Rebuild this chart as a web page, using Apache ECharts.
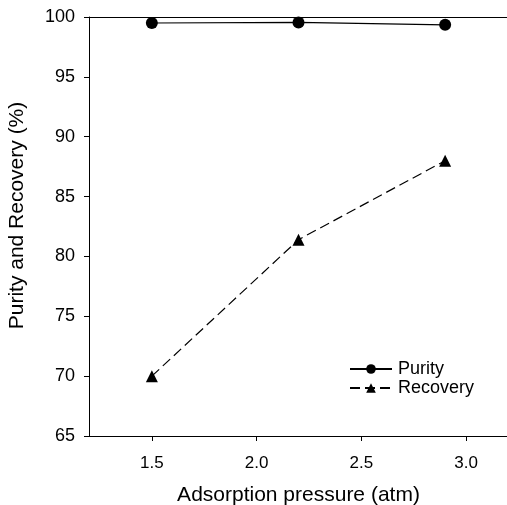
<!DOCTYPE html>
<html>
<head>
<meta charset="utf-8">
<script src="https://cdn.jsdelivr.net/npm/echarts@6/dist/echarts.min.js"></script>
<style>html,body{margin:0;padding:0;background:#fff}#c{width:507px;height:505px}</style>
</head>
<body>
<div id="c"></div>
<script>
var pressure = [1.5, 2.2, 2.9];
var purity = [99.5, 99.55, 99.35];
var recovery = [70.0, 81.4, 88.0];
var xTicks = [1.5, 2.0, 2.5, 3.0];
var yTicks = [65, 70, 75, 80, 85, 90, 95, 100];

var chart = echarts.init(document.getElementById('c'), null, {renderer: 'canvas'});
var font = 'Liberation Sans, Arial, sans-serif';
function pairs(xs, ys) { return xs.map(function (x, i) { return [x, ys[i]]; }); }

chart.setOption({
  animation: false,
  backgroundColor: '#fff',
  grid: {left: 89, top: 17, right: -1, bottom: 69, containLabel: false, outerBoundsMode: 'none'},
  legend: {
    orient: 'vertical', left: 344, top: 355, itemWidth: 42, itemHeight: 12, itemGap: 1,
    textStyle: {fontFamily: font, fontSize: 18, color: '#000', padding: [0, 0, 0, 1]},
    data: ['Purity', 'Recovery']
  },
  xAxis: [{
    type: 'value', min: 1.2, max: 3.2,
    name: 'Adsorption pressure (atm)', nameLocation: 'middle', nameGap: 49,
    nameTextStyle: {fontFamily: font, fontSize: 21, color: '#000'},
    axisLine: {lineStyle: {color: '#000', width: 1}},
    axisTick: {show: true, inside: false, length: 5, customValues: xTicks, lineStyle: {color: '#000'}},
    axisLabel: {customValues: xTicks, margin: 19, fontFamily: font, fontSize: 17, color: '#000',
      formatter: function (v) { return v.toFixed(1); }},
    splitLine: {show: false}
  }, {
    type: 'value', position: 'top', min: 1.2, max: 3.2,
    axisLine: {show: true, lineStyle: {color: '#000', width: 1}},
    axisTick: {show: false}, axisLabel: {show: false}, splitLine: {show: false}
  }],
  yAxis: {
    type: 'value', min: 65, max: 100, interval: 5,
    name: 'Purity and Recovery (%)', nameLocation: 'middle', nameGap: 61,
    nameTextStyle: {fontFamily: font, fontSize: 21, color: '#000', padding: [0, 0, 0, 22]},
    axisLine: {show: true, lineStyle: {color: '#000', width: 1}},
    axisTick: {show: true, inside: false, length: 5, lineStyle: {color: '#000'}},
    axisLabel: {margin: 14, fontFamily: font, fontSize: 18, color: '#000'},
    splitLine: {show: false}
  },
  series: [{
    name: 'Purity', type: 'line', data: pairs(pressure, purity),
    symbol: 'circle', symbolSize: 12,
    itemStyle: {color: '#000'}, lineStyle: {color: '#000', width: 1.2}
  }, {
    name: 'Recovery', type: 'line', data: pairs(pressure, recovery),
    symbol: 'triangle', symbolSize: 12,
    itemStyle: {color: '#000'}, lineStyle: {color: '#000', width: 1.2, type: [10, 5]}
  }]
});
</script>
</body>
</html>
